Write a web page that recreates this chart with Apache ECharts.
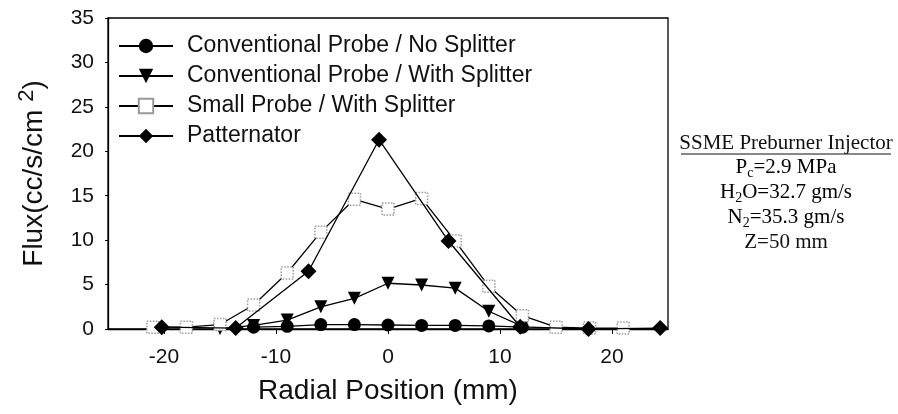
<!DOCTYPE html>
<html>
<head>
<meta charset="utf-8">
<script src="https://cdn.jsdelivr.net/npm/echarts@6/dist/echarts.min.js"></script>
<style>
html,body{margin:0;padding:0;background:#fff;}
#c{width:898px;height:414px;}
</style>
</head>
<body>
<div id="c"></div>
<script>
// ---- data ----
const seriesNames = [
  'Conventional Probe / No Splitter',
  'Conventional Probe / With Splitter',
  'Small Probe / With Splitter',
  'Patternator'
];
const convNoSplitX = [-12, -9, -6, -3, 0, 3, 6, 9, 12];
const convNoSplitY = [0.2, 0.3, 0.5, 0.5, 0.45, 0.4, 0.4, 0.35, 0.2];
const convSplitX = [-15, -12, -9, -6, -3, 0, 3, 6, 9, 12];
const convSplitY = [0.05, 0.4, 1.0, 2.5, 3.45, 5.15, 4.95, 4.6, 2.0, 0.3];
const smallProbeX = [-21, -18, -15, -12, -9, -6, -3, 0, 3, 6, 9, 12, 15, 18, 21];
const smallProbeY = [0.2, 0.2, 0.5, 2.7, 6.3, 10.9, 14.6, 13.5, 14.7, 9.9, 4.8, 1.5, 0.2, 0.1, 0.1];
const patternX = [-20.2, -13.6, -7.1, -0.8, 5.4, 11.8, 17.9, 24.3];
const patternY = [0.2, 0.1, 6.5, 21.3, 9.9, 0.25, 0, 0.1];
const xTicks = [-20, -10, 0, 10, 20];
const noteLines = ['SSME Preburner Injector', 'Z=50 mm'];

function pairs(xs, ys) { return xs.map((x, i) => [x, ys[i]]); }

const sans = '"Liberation Sans", Arial, Helvetica, sans-serif';
const serif = '"Liberation Serif", "Times New Roman", serif';

const chart = echarts.init(document.getElementById('c'), null, {renderer: 'canvas'});

const lineBase = {type: 'line', showSymbol: true, animation: false, z: 3,
  lineStyle: {color: '#000', width: 1.3}};

const option = {
  backgroundColor: '#fff',
  animation: false,
  grid: {left: 108, right: 230, top: 18, bottom: 85, show: true, borderColor: '#000', borderWidth: 1.3, backgroundColor: 'transparent'},
  legend: {
    orient: 'vertical', left: 113, top: 29,
    itemWidth: 54, itemHeight: 18, itemGap: 6,
    textStyle: {fontFamily: sans, fontSize: 23, color: '#111', lineHeight: 24, padding: [0, 0, 0, 9]},
    data: seriesNames
  },
  xAxis: {
    type: 'value', min: -25, max: 25,
    name: 'Radial Position (mm)', nameLocation: 'middle', nameGap: 48,
    nameTextStyle: {fontFamily: sans, fontSize: 28, color: '#111'},
    axisLine: {show: true, onZero: false, lineStyle: {color: '#000', width: 1.3}},
    axisTick: {show: true, length: 5, customValues: xTicks, lineStyle: {color: '#000'}},
    axisLabel: {customValues: xTicks, fontFamily: sans, fontSize: 21, color: '#111', margin: 18},
    splitLine: {show: false}
  },
  yAxis: {
    type: 'value', min: 0, max: 35, interval: 5,
    name: '{n|Flux(cc/s/cm }{sup|2}{n|)}', nameLocation: 'middle', nameGap: 56, nameRotate: 90,
    nameTextStyle: {fontFamily: sans, fontSize: 28, color: '#111',
      rich: {n: {fontFamily: sans, fontSize: 28, color: '#111'},
             sup: {fontFamily: sans, fontSize: 22, color: '#111', padding: [0, 0, 14, 0]}}},
    axisLine: {show: true, onZero: false, lineStyle: {color: '#000', width: 1.3}},
    axisTick: {show: true, length: 3, lineStyle: {color: '#000'}},
    axisLabel: {fontFamily: sans, fontSize: 21, color: '#111', margin: 14},
    splitLine: {show: false}
  },
  series: [
    Object.assign({}, lineBase, {
      name: seriesNames[0], data: pairs(convNoSplitX, convNoSplitY),
      symbol: 'circle', symbolSize: 13, itemStyle: {color: '#000'}
    }),
    Object.assign({}, lineBase, {
      name: seriesNames[1], data: pairs(convSplitX, convSplitY),
      symbol: 'triangle', symbolRotate: 180, symbolSize: 13, itemStyle: {color: '#000'}
    }),
    Object.assign({}, lineBase, {
      name: seriesNames[2], data: pairs(smallProbeX, smallProbeY),
      symbol: 'rect', symbolSize: 12,
      itemStyle: {color: '#fff', borderColor: '#999', borderWidth: 1.5, borderType: 'dotted'}
    }),
    Object.assign({}, lineBase, {
      name: seriesNames[3], data: pairs(patternX, patternY), z: 4,
      symbol: 'diamond', symbolSize: 16, itemStyle: {color: '#000'}
    })
  ]
};

const noteX = 786;
const noteRich = {
  n: {fontFamily: serif, fontSize: 21, color: '#111'},
  sub: {fontFamily: serif, fontSize: 14, color: '#111', padding: [12, 0, 0, 0]}
};
option.graphic = [
  {type: 'text', x: noteX, y: 143, style: {text: noteLines[0], font: '21px ' + serif, fill: '#111', align: 'center', verticalAlign: 'middle'}},
  {type: 'line', shape: {x1: 681, y1: 154, x2: 891, y2: 154}, style: {stroke: '#111', lineWidth: 1}},
  {type: 'text', x: noteX, y: 167, style: {text: '{n|P}{sub|c}{n|=2.9 MPa}', rich: noteRich, align: 'center', verticalAlign: 'middle'}},
  {type: 'text', x: noteX, y: 192, style: {text: '{n|H}{sub|2}{n|O=32.7 gm/s}', rich: noteRich, align: 'center', verticalAlign: 'middle'}},
  {type: 'text', x: noteX, y: 217, style: {text: '{n|N}{sub|2}{n|=35.3 gm/s}', rich: noteRich, align: 'center', verticalAlign: 'middle'}},
  {type: 'text', x: noteX, y: 242, style: {text: noteLines[1], font: '21px ' + serif, fill: '#111', align: 'center', verticalAlign: 'middle'}}
];

chart.setOption(option);
</script>
</body>
</html>
